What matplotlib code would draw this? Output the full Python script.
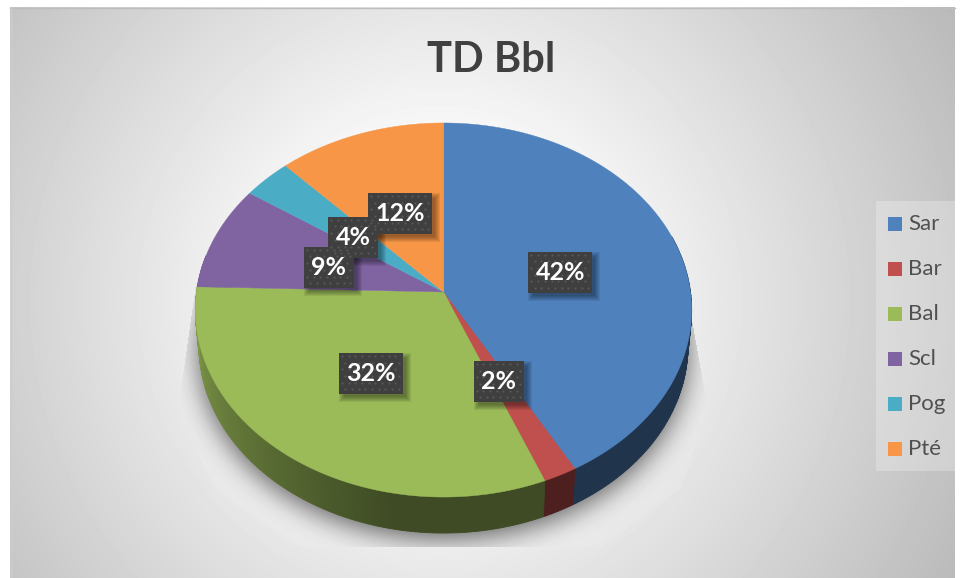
import numpy as np
import matplotlib
matplotlib.use("Agg")
import matplotlib.pyplot as plt
from matplotlib.path import Path
from matplotlib.patches import Rectangle

# datos
categorias = ['Sar', 'Bar', 'Bal', 'Scl', 'Pog', 'Pté']
valores = [41.9, 2.0, 31.55, 9.05, 3.5, 12.0]
colores = ['#4f81bd', '#c0504d', '#9bbb59', '#8064a2', '#4bacc6', '#f79646']
titulo = 'TD Bbl'

W, H = 960, 578
CX, CY, RX, RY, PERSP = 443.5, 292, 247, 185.3, 0.0963
PROF = 36


def proyecta(frac, r=1.0):
    # fraccion de vuelta (horario desde arriba) a pixeles, con perspectiva
    th = 2 * np.pi * np.asarray(frac, dtype=float)
    u, v = np.sin(th), np.cos(th)
    den = 1 + PERSP * v * r
    return CX + RX * r * u / den, CY - RY * r * v / den


def base(x, y):
    return CX + (x - CX) * 0.985, y + PROF


def sombra_lateral(frac):
    ang = frac * 360
    return np.clip(0.40 + (ang - 190) * (0.82 - 0.40) / 75, 0.40, 0.82)


def desenfoca(img, sigma):
    n = int(3 * sigma)
    k = np.exp(-0.5 * (np.arange(-n, n + 1) / sigma) ** 2)
    k /= k.sum()
    img = np.apply_along_axis(lambda f: np.convolve(f, k, mode='same'), 0, img)
    return np.apply_along_axis(lambda f: np.convolve(f, k, mode='same'), 1, img)


fig = plt.figure(figsize=(9.6, 5.78), dpi=100)
ax = fig.add_axes([0, 0, 1, 1])
ax.set_xlim(0, W)
ax.set_ylim(H, 0)
ax.axis('off')

# fondo degradado
yy, xx = np.mgrid[0:H, 0:W]
d = np.hypot((xx + 0.5 - 440) / 480, (yy + 0.5 - 300) / 480)
gris = np.clip(255 - 71 * (d - 0.25), 0, 255) / 255
marco = (xx >= 10) & (xx < 955) & (yy >= 7)
fondo = np.where(marco, gris, 1.0)
ax.imshow(fondo, cmap='gray', vmin=0, vmax=1, extent=(0, W, H, 0), aspect='auto', zorder=0)
ax.plot([10, 955], [7.5, 7.5], color='#bdbdbd', lw=1, zorder=1)
ax.plot([10.5, 10.5], [7, 578], color='#cccccc', lw=1, zorder=1)

# sombra bajo la tarta
t = np.linspace(0, 1, 361)
px, py = proyecta(t)
bx, by = base(px, py)
contorno = np.column_stack([bx, by + 6])
puntos = np.column_stack([xx.ravel() + 0.5, yy.ravel() + 0.5])
masc = Path(contorno).contains_points(puntos).reshape(H, W).astype(float)
recorte = Path([(196, 285), (178, 410), (215, 490), (300, 547), (600, 547),
                (680, 490), (708, 410), (692, 320)]).contains_points(puntos).reshape(H, W)
brillo = np.where(recorte, np.clip(1.10 - gris, 0, 1) * 0.55, 0)
capa_b = np.ones((H, W, 4))
capa_b[..., 3] = brillo
ax.imshow(capa_b, extent=(0, W, H, 0), aspect='auto', zorder=1)
osc = desenfoca(masc, 13)
capa = np.zeros((H, W, 4))
capa[..., 3] = np.where(recorte, np.clip(osc * 0.6, 0, 1), 0)
ax.imshow(capa, extent=(0, W, H, 0), aspect='auto', zorder=2)

# tarta: pared lateral y cara superior
acum = np.concatenate([[0], np.cumsum(valores)]) / sum(valores)
for ini, fin, color in zip(acum[:-1], acum[1:], colores):
    rgb = np.array(matplotlib.colors.to_rgb(color))
    pasos = np.arange(max(ini, 0.2), min(fin, 0.78), 0.0025)
    for f in pasos:
        f2 = min(f + 0.0025, fin)
        x1, y1 = proyecta([f, f2])
        x2, y2 = base(x1, y1)
        c = rgb * sombra_lateral(f)
        ax.fill([x1[0], x1[1], x2[1], x2[0]], [y1[0], y1[1], y2[1], y2[0]],
                color=c, lw=0.6, zorder=3)

for ini, fin, color in zip(acum[:-1], acum[1:], colores):
    f = np.linspace(ini, fin, max(int((fin - ini) * 720), 8))
    x, y = proyecta(f)
    ax.fill(np.r_[CX, x], np.r_[CY, y], color=color, lw=0.3, zorder=4)

# etiquetas de porcentaje
medios = (acum[:-1] + acum[1:]) / 2
pct = [f'{v:.0f}%' for v in valores]
ANCHO = {2: 50, 3: 64}
ALTO = 41
for m, txt in zip(medios, pct):
    lx, ly = proyecta(m, 0.495)
    ly = ly + 3
    a = ANCHO[len(txt)]
    x0, y0 = lx - a / 2, ly - ALTO / 2
    for i in range(6):
        ax.add_patch(Rectangle((x0 + 5 - i, y0 + 5 - i), a + 2 * i - 2, ALTO + 2 * i - 2,
                               fc='black', ec='none', alpha=0.07, zorder=5))
    ax.add_patch(Rectangle((x0, y0), a, ALTO, fc='#3f3f3f', ec='none', zorder=6))
    for dx in np.arange(x0 + 3, x0 + a - 1, 6.7):
        for j, dy in enumerate(np.arange(y0 + 3, y0 + ALTO - 1, 6.7)):
            ax.plot(dx + (j % 2) * 3.3, dy, 's', ms=1.3, color='#5c5c5c', mew=0, zorder=6.5)
    ax.text(lx, ly, txt, color='white', fontsize=18, fontweight='bold', family='Lato',
            ha='center', va='center', zorder=7)

# titulo
ax.text(491, 60, titulo, color='#404040', fontsize=30, fontweight='bold', family='Lato',
        ha='center', va='center', zorder=7)

# leyenda
ax.add_patch(Rectangle((876, 201), 79, 270, fc='white', ec='none', alpha=0.25, zorder=5))
for i, (nom, color) in enumerate(zip(categorias, colores)):
    yc = 223.7 + 45 * i
    ax.add_patch(Rectangle((888, yc - 7), 14, 14, fc=color, ec='none', zorder=6))
    ax.text(908, yc, nom, color='#505050', fontsize=16, family='Lato',
            ha='left', va='center', zorder=6)

fig.savefig('out.png', dpi=100)
